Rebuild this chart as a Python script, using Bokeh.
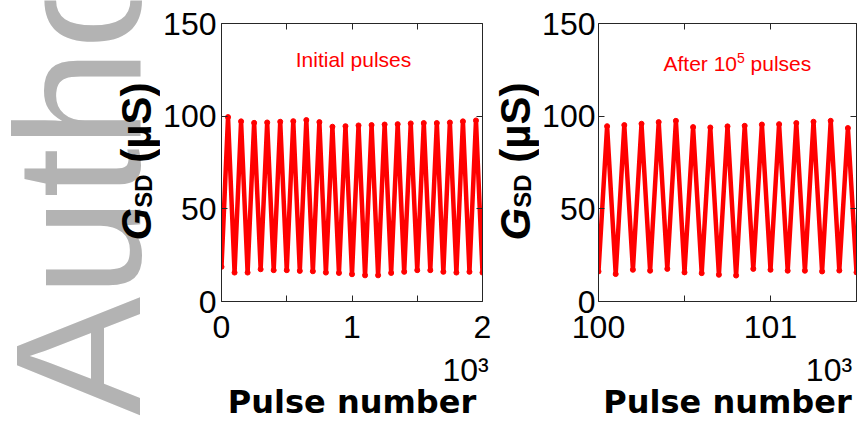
from math import pi
from bokeh.plotting import figure
from bokeh.models import Range1d, LinearAxis, FixedTicker, Label
from bokeh.layouts import row
from bokeh.embed import file_html
from bokeh.resources import INLINE

# ---------------- data ----------------
period = 100            # pulses per potentiation/depression cycle
initial_start = 0
after_start = 100000

initial_troughs = [18.7, 15.6, 15.6, 17.4, 16.9, 16.9, 16.5, 16.3, 15.6, 15.4, 14.7,
                   14.1, 14.1, 15.4, 16.0, 16.9, 16.9, 16.0, 15.6, 16.0, 15.6]
initial_peaks = [99.5, 97.2, 96.4, 96.6, 97.0, 97.3, 97.9, 96.8, 94.3, 94.6,
                 95.0, 95.2, 95.5, 95.7, 96.1, 96.3, 96.3, 96.6, 97.2, 97.7]

after_troughs = [16.2, 14.8, 17.1, 16.6, 17.6, 15.7, 15.3, 14.4, 14.0, 17.6,
                 17.1, 16.6, 16.6, 16.2, 16.7, 15.7]
after_peaks = [94.6, 95.2, 95.9, 96.8, 97.5, 94.1, 93.9, 94.5, 94.8, 95.5,
               95.7, 96.3, 97.0, 97.5, 93.6]

initial_xticks = [0, 500, 1000, 1500, 2000]
initial_xlabels = {0: "0", 500: "", 1000: "1", 1500: "", 2000: "2"}
after_xticks = [100000, 100500, 101000, 101500]
after_xlabels = {100000: "100", 100500: "", 101000: "101", 101500: ""}
y_ticks = [0, 50, 100, 150]
multiplier_text = "10³"
initial_multiplier_at = 1870
after_multiplier_at = 101340
x_title = "Pulse number"

RED = "#ff0000"
AX = "#262626"
FONT = "Liberation Sans"
H = 427
MID = 0.3465   # distance (in em) between box middle and baseline for Liberation Sans


def zigzag(start, troughs, peaks):
    xs, ys = [], []
    for i, t in enumerate(troughs):
        xs.append(start + i * period)
        ys.append(t)
        if i < len(peaks):
            xs.append(start + i * period + period // 2)
            ys.append(peaks[i])
    return xs, ys


def style_axis(ax, labels=True):
    ax.axis_line_color = AX
    ax.axis_line_width = 1
    ax.major_tick_line_color = AX
    ax.major_tick_in = 6
    ax.major_tick_out = 0
    ax.minor_tick_in = 0
    ax.minor_tick_out = 0
    if labels:
        ax.major_label_text_font = FONT
        ax.major_label_text_font_size = "32px"
        ax.major_label_text_color = "black"
    else:
        # mirror axis: ticks only, labels not drawn
        ax.major_label_text_font_size = "1px"
        ax.major_label_text_color = None
        ax.major_label_standoff = 0


def lab(p, x, y, text, size, font=FONT, style="normal", color="black",
        angle=0, align="left", baseline="alphabetic", level="annotation"):
    p.add_layout(Label(x=x, y=y, x_units="screen", y_units="screen", text=text,
                       text_font=font, text_font_size=f"{size}px",
                       text_font_style=style, text_color=color, angle=angle,
                       text_align=align, text_baseline=baseline, level=level))


def vlab(p, base_x, y, text, size, **kw):
    # vertical text reading upwards, glyph baseline at base_x
    lab(p, base_x - MID * size, y, text, size, angle=pi / 2, **kw)


def strip(width):
    s = figure(output_backend="svg", toolbar_location=None, width=width, height=H,
               x_range=Range1d(0, width), y_range=Range1d(0, H),
               min_border_left=0, min_border_right=0, min_border_top=0,
               min_border_bottom=0, x_axis_location=None, y_axis_location=None,
               frame_align=False)
    s.grid.visible = False
    s.outline_line_color = None
    s.border_fill_color = "white"
    s.background_fill_color = "white"
    return s


def panel(xr, xticks, xlabels, mult_at, start, troughs, peaks, width, bl, br,
          ystandoff):
    p = figure(output_backend="svg", toolbar_location=None,
               width=width, height=H,
               x_range=Range1d(*xr), y_range=Range1d(0, 150),
               min_border_left=bl, min_border_right=br,
               min_border_top=23, min_border_bottom=126, frame_align=False)
    p.grid.visible = False
    p.outline_line_color = None
    p.background_fill_color = "white"
    p.border_fill_color = "white"

    p.xaxis.ticker = FixedTicker(ticks=xticks)
    p.xaxis.major_label_overrides = xlabels
    p.xaxis.major_label_standoff = 14
    p.yaxis.ticker = FixedTicker(ticks=y_ticks)
    p.yaxis.major_label_standoff = ystandoff
    style_axis(p.xaxis[0])
    style_axis(p.yaxis[0])

    # second row below the axis: the 10^3 multiplier and the axis title
    mult = LinearAxis(ticker=FixedTicker(ticks=[mult_at]),
                      major_label_overrides={mult_at: multiplier_text})
    style_axis(mult)
    mult.axis_line_color = None
    mult.major_tick_line_color = None
    mult.major_tick_in = 0
    mult.major_label_standoff = 11
    mult.axis_label = x_title
    mult.axis_label_text_font = "DejaVu Sans"
    mult.axis_label_text_font_style = "bold"
    mult.axis_label_text_font_size = "32px"
    mult.axis_label_text_color = "black"
    mult.axis_label_standoff = -8
    p.add_layout(mult, "below")

    top = LinearAxis(ticker=FixedTicker(ticks=xticks))
    style_axis(top, labels=False)
    p.add_layout(top, "above")
    right = LinearAxis(ticker=FixedTicker(ticks=y_ticks))
    style_axis(right, labels=False)
    p.add_layout(right, "right")

    xs, ys = zigzag(start, troughs, peaks)
    p.line(xs, ys, line_color=RED, line_width=4.5)
    p.scatter(xs, ys, size=5, fill_color=RED, line_color=RED)
    return p


s1 = strip(160)
left = panel((0, 2000), initial_xticks, initial_xlabels, initial_multiplier_at,
             initial_start, initial_troughs, initial_peaks, 335, 59, 13, 5)
s2 = strip(44)
right = panel((100000, 101500), after_xticks, after_xlabels, after_multiplier_at,
              after_start, after_troughs, after_peaks, 328, 57, 11, 3)

# watermark
vlab(s1, 140, H - 415, "Author", 178, color="#b3b3b3")

# y-axis titles  G_SD (µS)
for s, bx in ((s1, 151), (s2, 35)):
    vlab(s, bx, H - 240, "G", 42, style="bold italic")
    vlab(s, bx, H - 240 + 32.7, "SD", 24, style="bold")
    vlab(s, bx, H - 240 + 77.7, "(µS)", 42, style="bold")

# in-plot annotations
lab(left, 132, 241.7, "Initial pulses", 21, color=RED, align="center")
lab(right, 65, 238.5, "After 10", 21, color=RED)
lab(right, 138.5, 243.7, "5", 14, color=RED)
lab(right, 152.1, 238.5, "pulses", 21, color=RED)

layout = row(s1, left, s2, right)
open("out.html", "w").write(file_html(layout, INLINE))
